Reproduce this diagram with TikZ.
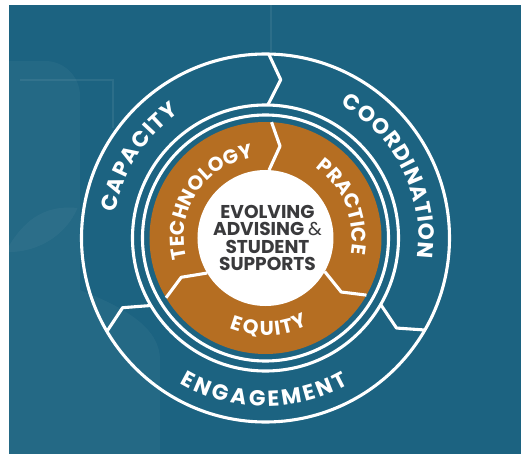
\documentclass[tikz,border=0pt]{standalone}
\usepackage{fontspec}
\setmainfont{Poppins}
\usepackage{xcolor}
\usepackage{tikz}
\usetikzlibrary{decorations.text, positioning}
\definecolor{bgteal}{HTML}{1C6381}
\definecolor{ringorange}{HTML}{B56E22}
\definecolor{coregray}{HTML}{3A3A3C}
\tikzstyle{ring} = [draw=white, line width=2.2pt]
\tikzstyle{divider} = [draw=white, line width=2.2pt, line join=round]
\tikzstyle{watermark} = [fill=white, fill opacity=0.04]
\tikzstyle{faint} = [draw=white, draw opacity=0.07, line width=1pt]
\tikzstyle{arclabel} = [decorate, decoration={text effects along path, text effects/.cd, text along path, fit text to path, characters={text=white, inner sep=0pt, font=\bfseries\fontsize{15.5}{15.5}\selectfont}}]
\tikzstyle{innerlabel} = [decorate, decoration={text effects along path, text effects/.cd, text along path, fit text to path, characters={text=white, inner sep=0pt, font=\bfseries\fontsize{14.2}{14.2}\selectfont}}]

\begin{document}
\begin{tikzpicture}[x=0.025cm, y=0.025cm]
    \useasboundingbox (-265.5,-216) rectangle (255.5,238);
    % Background
    \fill[bgteal] (-256.5,-216) rectangle (255.5,233);
    \path[watermark] (-256.5,177) -- (-220.5,177) arc[start angle=90, end angle=0, radius=35] -- (-185.5,-52) .. controls (-140,-70) and (-105.5,-90) .. (-105.5,-122) -- (-105.5,-216) -- (-256.5,-216) -- cycle;
    \path[watermark] (-256.5,-8) .. controls (-235,28) and (-210,32) .. (-188,30) .. controls (-200,2) and (-228,-14) .. (-256.5,-14) -- cycle;
    \draw[faint] (5.5,233) -- (5.5,186);
    \draw[faint] (-245.5,158) -- (-152.5,158) -- (-152.5,110);

    % Outer ring
    \draw[ring] (0,0) circle (184);
    \draw[ring] (0,0) circle (133);
    \draw[ring] (0,0) circle (123);
    \foreach \a in {89,210.5,330} {
        \draw[divider] (\a:184) -- ({\a-4.5}:159) -- (\a:133);
    }

    % Inner ring
    \fill[ringorange] (0,0) circle (116);
    \fill[white] (0,0) circle (68);
    \foreach \a in {87,211,330.5} {
        \draw[divider] (\a:116) -- ({\a-6}:93) -- (\a:68);
    }

    % Outer labels
    \path[arclabel, decoration={text={CAPACITY}}] (170.5:152) arc[start angle=170.5, end angle=124.5, radius=152];
    \path[arclabel, decoration={text={COORDINATION}}] (60.5:153) arc[start angle=60.5, end angle=-7.5, radius=153];
    \path[arclabel, decoration={text={ENGAGEMENT}}] (239.5:168.5) arc[start angle=239.5, end angle=299.5, radius=168.5];

    % Inner labels
    \path[innerlabel, decoration={text={TECHNOLOGY}}] (194.5:81.5) arc[start angle=194.5, end angle=98.5, radius=81.5];
    \path[innerlabel, decoration={text={PRACTICE}}] (54.5:86.5) arc[start angle=54.5, end angle=-10.5, radius=86.5];
    \path[innerlabel, decoration={text={EQUITY}}] (248.5:97.5) arc[start angle=248.5, end angle=296, radius=97.5];

    % Core
    \node (core) [align=center, text=coregray, font=\bfseries\fontsize{13.2}{12.3}\selectfont] at (2,0) {EVOLVING\\ADVISING {\mdseries\&}\\STUDENT\\SUPPORTS};
\end{tikzpicture}
\end{document}
